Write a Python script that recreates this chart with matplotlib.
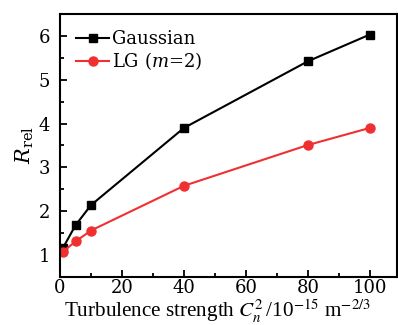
import matplotlib
matplotlib.use("Agg")
import matplotlib.pyplot as plt
from matplotlib.ticker import MultipleLocator

cn2 = [1, 5, 10, 40, 80, 100]
gaussian = [1.17, 1.68, 2.14, 3.90, 5.42, 6.03]
lg = [1.08, 1.31, 1.56, 2.58, 3.51, 3.90]

plt.rcParams['font.family'] = ['DejaVu Serif']
plt.rcParams['mathtext.fontset'] = 'dejavuserif'

fig = plt.figure(figsize=(3.98, 3.25), dpi=100)
ax = fig.add_axes([0.1508, 0.1477, 0.8467, 0.8093])

ax.plot(cn2, gaussian, color='black', marker='s', markersize=6, lw=1.5, label='Gaussian')
ax.plot(cn2, lg, color='#f03030', marker='o', markersize=6.5, lw=1.5, label='LG ($m$=2)')

ax.set_xlim(0, 108.8)
ax.set_ylim(0.5, 6.5)
ax.xaxis.set_major_locator(MultipleLocator(20))
ax.xaxis.set_minor_locator(MultipleLocator(10))
ax.yaxis.set_major_locator(MultipleLocator(1))
ax.yaxis.set_minor_locator(MultipleLocator(0.5))
ax.tick_params(which='both', direction='in', width=1.3, labelsize=13)
ax.tick_params(axis='y', pad=7)
ax.tick_params(axis='x', pad=1.5)
ax.tick_params(which='major', length=5)
ax.tick_params(which='minor', length=3)
for s in ax.spines.values():
    s.set_linewidth(1.5)

fig.text(0.1608, 0.0225,
         r'Turbulence strength $\mathit{C}_{\mathit{n}}^{2}\,$/10$^{-15}$ m$^{-2/3}$',
         fontsize=15.2, family='Liberation Serif', math_fontfamily='stix',
         ha='left', va='baseline')
ax.set_ylabel(r'$R_{\mathrm{rel}}$', fontsize=15, labelpad=2)

ax.legend(loc='upper left', frameon=False, fontsize=13, handlelength=1.8,
          handletextpad=0.2, borderaxespad=0.5, labelspacing=0.1)

fig.savefig('out.png', dpi=100)
